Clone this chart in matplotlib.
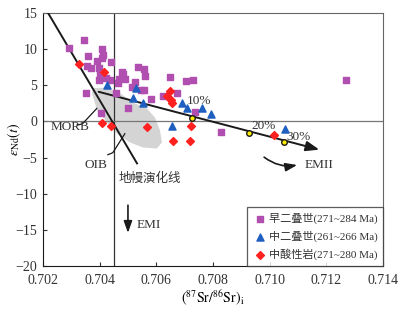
import matplotlib
matplotlib.use('Agg')
import matplotlib.pyplot as plt
from matplotlib.patches import Polygon

plt.rcParams['font.family'] = ['Liberation Serif', 'Noto Sans CJK SC']
plt.rcParams['mathtext.fontset'] = 'stix'

# 早二叠世
sr_early = [0.70292, 0.70345, 0.70359, 0.70391, 0.70408, 0.70412, 0.70440, 0.70355,
            0.70369, 0.70398, 0.70401, 0.70398, 0.70422, 0.70436, 0.70352, 0.70405,
            0.70479, 0.70482, 0.70489, 0.70465, 0.70458, 0.70500, 0.70535, 0.70556,
            0.70560, 0.70525, 0.70514, 0.70546, 0.70556, 0.70581, 0.70648, 0.70705,
            0.70729, 0.70624, 0.70673, 0.70736, 0.70410, 0.70470, 0.71269, 0.70828]
nd_early = [10.1, 11.25, 9.0, 8.3, 10.0, 9.2, 8.2, 7.6,
            7.4, 7.4, 6.7, 5.7, 6.0, 5.7, 4.0, 1.1,
            6.8, 6.5, 5.8, 5.3, 3.9, 1.8, 7.5, 7.2,
            6.25, 5.4, 4.7, 4.4, 4.3, 3.1, 6.1, 5.6,
            5.7, 3.5, 3.9, 1.3, 8.8, 5.9, 5.7, -1.4]

# 中二叠世
sr_mid = [0.70426, 0.70528, 0.70518, 0.70553, 0.70655, 0.70690, 0.70708, 0.70761,
          0.70793, 0.71054]
nd_mid = [5.1, 4.6, 3.2, 2.6, -0.6, 2.5, 1.8, 1.9, 1.0, -1.1]

# 中酸性岩
sr_acid = [0.70327, 0.70415, 0.70408, 0.70439, 0.70566, 0.70648, 0.70638, 0.70652,
           0.70655, 0.70722, 0.70659, 0.70719, 0.71015]
nd_acid = [7.9, 6.9, -0.2, -0.6, -0.8, 4.2, 3.5, 2.9, 2.5, -0.6, -2.7, -2.7, -1.9]

# 地幔演化线 / 混合线
mantle_sr = [0.70218, 0.70532]
mantle_nd = [15.0, -5.8]
mix_sr = [0.70387, 0.71185]
mix_nd = [4.2, -4.0]
pct_sr = [0.70726, 0.70927, 0.71051]
pct_nd = [0.5, -1.6, -2.8]
pct_labels = ['10%', '20%', '30%']

# 灰色区域
field_sr = [0.70373, 0.70391, 0.70426, 0.70461, 0.70507, 0.70553, 0.70602, 0.70620,
            0.70613, 0.70595, 0.70567, 0.70518, 0.70472, 0.70426, 0.70376]
field_nd = [3.9, 1.5, -0.1, -1.7, -2.9, -3.6, -3.75, -2.9,
            -1.25, 0.55, 1.8, 2.6, 3.9, 4.7, 4.6]

fig = plt.figure(figsize=(3.98, 3.09), dpi=100)
ax = fig.add_axes([0.108, 0.139, 0.854, 0.819])

ax.add_patch(Polygon(list(zip(field_sr, field_nd)), closed=True,
                     facecolor='#d4d4d4', edgecolor='none', zorder=1))

ax.axvline(0.7045, color='#333333', lw=0.9, zorder=2)
ax.axhline(0, color='#777777', lw=0.9, zorder=2)

ax.plot(mantle_sr, mantle_nd, color='#1a1a1a', lw=1.4, zorder=3)
ax.annotate('', xy=(mix_sr[1], mix_nd[1]), xytext=(mix_sr[0], mix_nd[0]),
            arrowprops=dict(arrowstyle='-|>,head_length=0.8,head_width=0.3',
                            color='#1a1a1a', lw=1.4), zorder=3)

ax.scatter(sr_early, nd_early, marker='s', s=16, color='#b04fb0', zorder=4,
           label='早二叠世(271~284 Ma)')
ax.scatter(sr_mid, nd_mid, marker='^', s=26, color='#1f5fbf', zorder=4,
           label='中二叠世(261~266 Ma)')
ax.scatter(sr_acid, nd_acid, marker='D', s=16, color='#ff2020', zorder=4,
           label='中酸性岩(271~280 Ma)')

ax.scatter(pct_sr, pct_nd, marker='o', s=16, facecolor='#ffee00',
           edgecolor='#1a1a1a', linewidth=1, zorder=5)
pct_offsets = [(-0.0002, 2.3), (0.0001, 0.9), (0.0001, 0.7)]
for x, y, t, (dx, dy) in zip(pct_sr, pct_nd, pct_labels, pct_offsets):
    ax.text(x + dx, y + dy, t, fontsize=9.5, color='#333333', ha='left', va='center')

# 标注
ax.text(0.70295, -0.8, 'MORB', fontsize=9.5, ha='center', va='center', color='#333333')
ax.plot([0.7032, 0.70333, 0.7034, 0.7039], [-0.5, -0.4, -0.3, 1.8], color='#1a1a1a', lw=0.9)
ax.text(0.70387, -6.0, 'OIB', fontsize=9.5, ha='center', va='center', color='#333333')
ax.plot([0.70429, 0.70442, 0.70447, 0.70489], [-4.6, -4.4, -4.3, -1.7], color='#1a1a1a', lw=0.9)
ax.text(0.70468, -7.9, '地幔演化线', fontsize=9, ha='left', va='center', color='#333333')

ax.annotate('', xy=(0.7050, -15.8), xytext=(0.7050, -11.2),
            arrowprops=dict(arrowstyle='-|>,head_length=0.7,head_width=0.25',
                            color='#1a1a1a', lw=1.2))
ax.text(0.70532, -14.3, 'EMI', fontsize=9.5, ha='left', va='center', color='#333333')
ax.annotate('', xy=(0.71107, -5.95), xytext=(0.70973, -4.7),
            arrowprops=dict(arrowstyle='-|>,head_length=0.7,head_width=0.25',
                            color='#1a1a1a', lw=1.2,
                            connectionstyle='arc3,rad=0.25'))
ax.text(0.71125, -6.0, 'EMII', fontsize=9.5, ha='left', va='center', color='#333333')

ax.set_xlim(0.702, 0.714)
ax.set_ylim(-20, 15)
ax.set_xticks([0.702, 0.704, 0.706, 0.708, 0.710, 0.712, 0.714])
ax.set_xticklabels(['0.702', '0.704', '0.706', '0.708', '0.710', '0.712', '0.714'])
ax.set_yticks([-20, -15, -10, -5, 0, 5, 10, 15])
ax.tick_params(direction='in', length=3, labelsize=10, colors='#333333')
ax.tick_params(axis='x', pad=6)
ax.tick_params(axis='y', pad=4)
for side in ['top', 'right']:
    ax.spines[side].set_color('#666666')
for side in ['left', 'bottom']:
    ax.spines[side].set_color('#1a1a1a')

ax.set_xlabel(r'$(^{87}\mathrm{Sr}/^{86}\mathrm{Sr})_\mathrm{i}$', fontsize=10, labelpad=1)
ax.set_ylabel(r'$\varepsilon_\mathrm{Nd}(t)$', fontsize=10)
ax.yaxis.set_label_coords(-0.06, 0.5)

leg = ax.legend(loc='lower right', fontsize=8, frameon=True, fancybox=False,
                borderaxespad=0, handletextpad=0.2, handlelength=1.2,
                borderpad=0.5, labelspacing=0.6)
leg.get_frame().set_edgecolor('#333333')
leg.get_frame().set_linewidth(0.9)
for t in leg.get_texts():
    t.set_color('#333333')

fig.savefig('out.png', dpi=100)
